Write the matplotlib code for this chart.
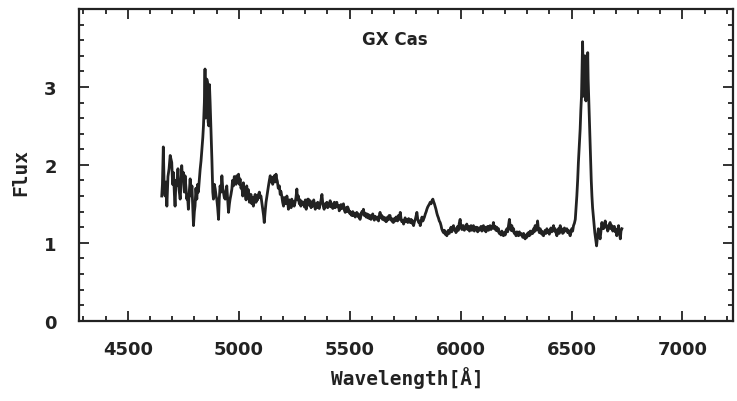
import matplotlib
matplotlib.use("Agg")
import matplotlib.pyplot as plt
import numpy as np

# spectrum of GX Cas
wave = [4653, 4656, 4660, 4664, 4668, 4672, 4676, 4681, 4686, 4691, 4698, 4702, 4706, 4710, 4713, 4717,
        4721, 4726, 4731, 4736, 4740, 4743, 4747, 4751, 4755, 4758, 4762, 4766, 4769, 4773, 4777, 4781,
        4785, 4789, 4793, 4796, 4800, 4803, 4807, 4811, 4815, 4818, 4822, 4826, 4830, 4834, 4838, 4841,
        4845, 4848, 4851, 4853, 4856, 4859, 4862, 4865, 4868, 4871, 4874, 4877, 4879, 4883, 4886, 4890,
        4894, 4898, 4901, 4905, 4909, 4912, 4916, 4920, 4924, 4928, 4931, 4935, 4939, 4942, 4946, 4950,
        4954, 4958, 4961, 4965, 4969, 4972, 4976, 4980, 4984, 4988, 4991, 4995, 4999, 5003, 5006, 5010,
        5014, 5018, 5021, 5025, 5029, 5033, 5036, 5040, 5044, 5048, 5051, 5055, 5059, 5063, 5066, 5070,
        5074, 5078, 5081,
        5085, 5089, 5093, 5097, 5100, 5104, 5108, 5112, 5115, 5119, 5123, 5127, 5131, 5134, 5138, 5142,
        5145, 5149, 5153, 5157, 5160, 5164, 5168, 5171, 5174, 5178, 5183, 5187, 5190, 5194, 5198, 5202,
        5205, 5209, 5213, 5217, 5221, 5224, 5228, 5232, 5236, 5239, 5243, 5247, 5250, 5254, 5258, 5262,
        5265, 5269, 5273, 5277, 5280, 5284, 5288, 5292, 5296, 5300, 5304, 5308, 5311, 5314, 5318, 5322,
        5326, 5330, 5334, 5338, 5342, 5345, 5349, 5352, 5356, 5359, 5363, 5367, 5371, 5375, 5379, 5382,
        5385, 5389, 5393, 5397, 5401, 5405, 5408, 5412, 5416, 5420, 5424, 5427, 5431, 5435, 5438, 5442,
        5446, 5450, 5453, 5457, 5461, 5465, 5469, 5472, 5476, 5480, 5484, 5488, 5491, 5495, 5499, 5502,
        5506, 5510, 5514, 5517, 5521, 5525, 5528, 5532, 5536, 5540, 5543, 5547,
        5551, 5555, 5558, 5562, 5566, 5570, 5574, 5578, 5582, 5585, 5589, 5592, 5596, 5600, 5604, 5607,
        5611, 5615, 5619, 5623, 5626, 5630, 5634, 5637, 5641, 5645, 5648, 5652, 5656, 5660, 5664, 5668,
        5671, 5675, 5678, 5682, 5686, 5690, 5693, 5697, 5701, 5705, 5709, 5713, 5716, 5720, 5724, 5728,
        5732, 5735, 5739, 5743, 5747, 5750, 5754, 5758, 5762, 5766, 5769, 5773, 5777, 5781, 5784, 5788,
        5792, 5796, 5800, 5803, 5807, 5811, 5815, 5818, 5822, 5826, 5830, 5833, 5837, 5841, 5845, 5848,
        5852, 5856, 5860, 5863, 5867, 5871, 5875, 5878, 5882, 5885, 5889, 5893, 5896, 5900, 5904, 5908,
        5912, 5915, 5919, 5923, 5927, 5930, 5934, 5938, 5942, 5945, 5949, 5953, 5957, 5960, 5964, 5968,
        5972, 5975, 5979, 5983, 5987, 5990, 5994, 5998,
        6002, 6006, 6010, 6013, 6017, 6021, 6025, 6028, 6032, 6036, 6040, 6043, 6047, 6051, 6055, 6058,
        6062, 6066, 6069, 6073, 6077, 6081, 6084, 6088, 6092, 6096, 6099, 6103, 6107, 6111, 6114, 6118,
        6122, 6126, 6129, 6133, 6137, 6141, 6144, 6148, 6152, 6156, 6159, 6163, 6167, 6171, 6174, 6178,
        6182, 6186, 6189, 6193, 6197, 6201, 6205, 6209, 6212, 6216, 6220, 6224, 6227, 6231, 6235, 6239,
        6242, 6246, 6250, 6254, 6257, 6261, 6265, 6269, 6272, 6276, 6280, 6284, 6287, 6291, 6295, 6299,
        6302, 6306, 6310, 6314, 6317, 6321, 6325, 6329, 6332, 6336, 6340, 6344, 6347, 6351, 6355, 6359,
        6362, 6366, 6370, 6374, 6377, 6381, 6385, 6389, 6392, 6396, 6400, 6404, 6407, 6411, 6415, 6419,
        6422, 6426, 6430, 6434, 6437, 6441, 6445, 6449,
        6453, 6456, 6460, 6464, 6468, 6471, 6475, 6479, 6483, 6486, 6490, 6494, 6498, 6501, 6505, 6509,
        6513, 6517, 6520, 6524, 6528, 6531, 6535, 6539, 6542, 6545, 6548, 6550, 6552, 6553, 6555, 6557,
        6560, 6562, 6565, 6567, 6570, 6573, 6575, 6578, 6582, 6586, 6589, 6592, 6595, 6598, 6602, 6605,
        6609, 6613, 6617, 6621, 6625, 6629, 6633, 6637, 6640, 6644, 6648, 6652, 6655, 6659, 6663, 6667,
        6670, 6674, 6678, 6682, 6686, 6689, 6693, 6697, 6701, 6704, 6708, 6712, 6716, 6720, 6723, 6727]

flux = [1.60, 1.75, 2.23, 1.70, 1.60, 1.78, 1.47, 1.85, 1.95, 2.12, 2.03, 1.75, 1.90, 1.62, 1.47, 1.80,
        1.73, 1.95, 1.68, 1.56, 1.75, 1.99, 1.80, 1.90, 1.65, 1.86, 1.70, 1.56, 1.62, 1.43, 1.65, 1.82,
        1.60, 1.73, 1.45, 1.22, 1.40, 1.47, 1.70, 1.56, 1.75, 1.65, 1.80, 1.94, 2.05, 2.20, 2.35, 2.50,
        2.80, 3.23, 2.60, 2.71, 3.10, 3.06, 2.55, 2.50, 3.03, 2.80, 2.50, 2.25, 2.07, 1.65, 1.56, 1.75,
        1.69, 1.60, 1.56, 1.45, 1.30, 1.55, 1.73, 1.65, 1.86, 1.70, 1.65, 1.58, 1.56, 1.65, 1.73, 1.55,
        1.39, 1.50, 1.56, 1.62, 1.69, 1.80, 1.73, 1.85, 1.82, 1.75, 1.86, 1.78, 1.88, 1.75, 1.82, 1.70,
        1.73, 1.60, 1.77, 1.62, 1.65, 1.55, 1.73, 1.60, 1.68, 1.52, 1.56, 1.62, 1.50, 1.58, 1.47, 1.55,
        1.62, 1.52, 1.60,
        1.55, 1.62, 1.65, 1.58, 1.60, 1.52, 1.45, 1.35, 1.26, 1.40, 1.52, 1.60, 1.68, 1.73, 1.80, 1.86,
        1.78, 1.84, 1.75, 1.80, 1.86, 1.78, 1.88, 1.82, 1.79, 1.70, 1.73, 1.62, 1.66, 1.60, 1.52, 1.47,
        1.58, 1.56, 1.50, 1.60, 1.52, 1.43, 1.55, 1.52, 1.45, 1.56, 1.50, 1.53, 1.47, 1.52, 1.58, 1.69,
        1.55, 1.60, 1.50, 1.55, 1.47, 1.53, 1.49, 1.52, 1.46, 1.55, 1.43, 1.50, 1.56, 1.56, 1.48, 1.54,
        1.45, 1.52, 1.47, 1.55, 1.48, 1.43, 1.50, 1.45, 1.52, 1.47, 1.44, 1.50, 1.55, 1.62, 1.50, 1.46,
        1.43, 1.50, 1.46, 1.52, 1.45, 1.50, 1.47, 1.54, 1.46, 1.50, 1.44, 1.47, 1.52, 1.45, 1.50, 1.52,
        1.46, 1.48, 1.41, 1.43, 1.49, 1.44, 1.47, 1.50, 1.42, 1.39, 1.45, 1.40, 1.46, 1.43, 1.38, 1.40,
        1.36, 1.35, 1.40, 1.35, 1.38, 1.33, 1.37, 1.39, 1.34, 1.37, 1.32, 1.30,
        1.35, 1.40, 1.37, 1.43, 1.35, 1.38, 1.33, 1.37, 1.32, 1.36, 1.31, 1.35, 1.30, 1.34, 1.37, 1.33,
        1.29, 1.34, 1.31, 1.30, 1.33, 1.28, 1.35, 1.39, 1.32, 1.35, 1.30, 1.33, 1.29, 1.32, 1.27, 1.28,
        1.33, 1.30, 1.35, 1.35, 1.29, 1.31, 1.27, 1.26, 1.31, 1.28, 1.33, 1.33, 1.28, 1.35, 1.30, 1.39,
        1.30, 1.27, 1.29, 1.24, 1.28, 1.32, 1.27, 1.30, 1.26, 1.31, 1.27, 1.26, 1.30, 1.25, 1.28, 1.22,
        1.27, 1.30, 1.35, 1.39, 1.30, 1.26, 1.28, 1.22, 1.27, 1.33, 1.28, 1.30, 1.33, 1.37, 1.40, 1.43,
        1.46, 1.48, 1.50, 1.52, 1.50, 1.54, 1.56, 1.53, 1.50, 1.47, 1.43, 1.38, 1.35, 1.32, 1.28, 1.26,
        1.22, 1.18, 1.15, 1.13, 1.16, 1.11, 1.14, 1.09, 1.13, 1.16, 1.12, 1.17, 1.20, 1.14, 1.19, 1.22,
        1.16, 1.18, 1.13, 1.15, 1.21, 1.16, 1.25, 1.30,
        1.20, 1.17, 1.22, 1.22, 1.16, 1.20, 1.18, 1.24, 1.17, 1.21, 1.15, 1.18, 1.22, 1.16, 1.19, 1.22,
        1.15, 1.20, 1.17, 1.20, 1.14, 1.19, 1.16, 1.17, 1.21, 1.15, 1.19, 1.22, 1.16, 1.20, 1.14, 1.18,
        1.21, 1.16, 1.20, 1.22, 1.17, 1.21, 1.19, 1.26, 1.18, 1.21, 1.16, 1.20, 1.15, 1.18, 1.12, 1.13,
        1.10, 1.15, 1.11, 1.09, 1.13, 1.10, 1.16, 1.18, 1.14, 1.22, 1.30, 1.20, 1.16, 1.22, 1.15, 1.18,
        1.12, 1.13, 1.09, 1.14, 1.11, 1.09, 1.14, 1.10, 1.12, 1.11, 1.07, 1.12, 1.08, 1.05, 1.10, 1.07,
        1.12, 1.13, 1.09, 1.15, 1.11, 1.15, 1.12, 1.18, 1.14, 1.22, 1.16, 1.20, 1.28, 1.17, 1.13, 1.18,
        1.12, 1.15, 1.10, 1.09, 1.13, 1.16, 1.12, 1.18, 1.13, 1.16, 1.11, 1.15, 1.19, 1.14, 1.17, 1.22,
        1.15, 1.18, 1.13, 1.09, 1.14, 1.18, 1.12, 1.22,
        1.15, 1.18, 1.12, 1.13, 1.19, 1.15, 1.17, 1.18, 1.13, 1.16, 1.12, 1.09, 1.14, 1.18, 1.15, 1.22,
        1.25, 1.30, 1.42, 1.60, 1.82, 2.03, 2.25, 2.46, 2.70, 2.88, 3.30, 3.58, 3.20, 2.88, 3.35, 3.00,
        3.40, 2.90, 2.82, 3.25, 3.00, 3.44, 3.10, 2.82, 2.46, 2.03, 1.80, 1.60, 1.45, 1.35, 1.22, 1.13,
        1.05, 0.96, 1.08, 1.18, 1.10, 1.05, 1.15, 1.26, 1.20, 1.18, 1.22, 1.28, 1.20, 1.22, 1.15, 1.18,
        1.23, 1.26, 1.18, 1.22, 1.15, 1.18, 1.21, 1.14, 1.17, 1.09, 1.16, 1.22, 1.13, 1.05, 1.15, 1.18]

xticks = [4500, 5000, 5500, 6000, 6500, 7000]
yticks = [0, 1, 2, 3]

fig = plt.figure(figsize=(7.37, 4.02), dpi=100)
ax = fig.add_axes([0.1072, 0.1998, 0.8874, 0.7753])

ax.plot(wave, flux, color="#222222", lw=2.0)

ax.set_xlim(4280, 7228)
ax.set_ylim(0, 4)
ax.set_xticks(xticks)
ax.set_xticks(np.arange(4300, 7228, 100), minor=True)
ax.set_yticks(yticks)
ax.set_yticks(np.arange(0, 4.01, 0.2), minor=True)
ax.tick_params(which="both", direction="in", top=True, right=True, width=1.3, color="#222222")
ax.tick_params(which="major", length=7)
ax.tick_params(which="minor", length=3.6)
ax.tick_params(axis="x", pad=14, labelsize=13)
ax.tick_params(axis="y", pad=16, labelsize=13)
for lab in ax.get_xticklabels() + ax.get_yticklabels():
    lab.set_fontweight("bold")
    lab.set_color("#222222")
for sp in ax.spines.values():
    sp.set_linewidth(1.6)
    sp.set_color("#222222")

ax.text(0.483, 0.904, "GX Cas", transform=ax.transAxes, ha="center", va="center",
        fontsize=12, fontweight="bold", color="#222222")
fig.text(407 / 737, 1 - 378 / 402, "Wavelength[Å]", ha="center", va="center",
         fontsize=14, fontweight="bold", family="DejaVu Sans Mono", color="#222222")
fig.text(21 / 737, 1 - 172 / 402, "Flux", ha="center", va="center", rotation=90,
         fontsize=14, fontweight="bold", family="DejaVu Sans Mono", color="#222222")

fig.savefig("out.png", dpi=100)
